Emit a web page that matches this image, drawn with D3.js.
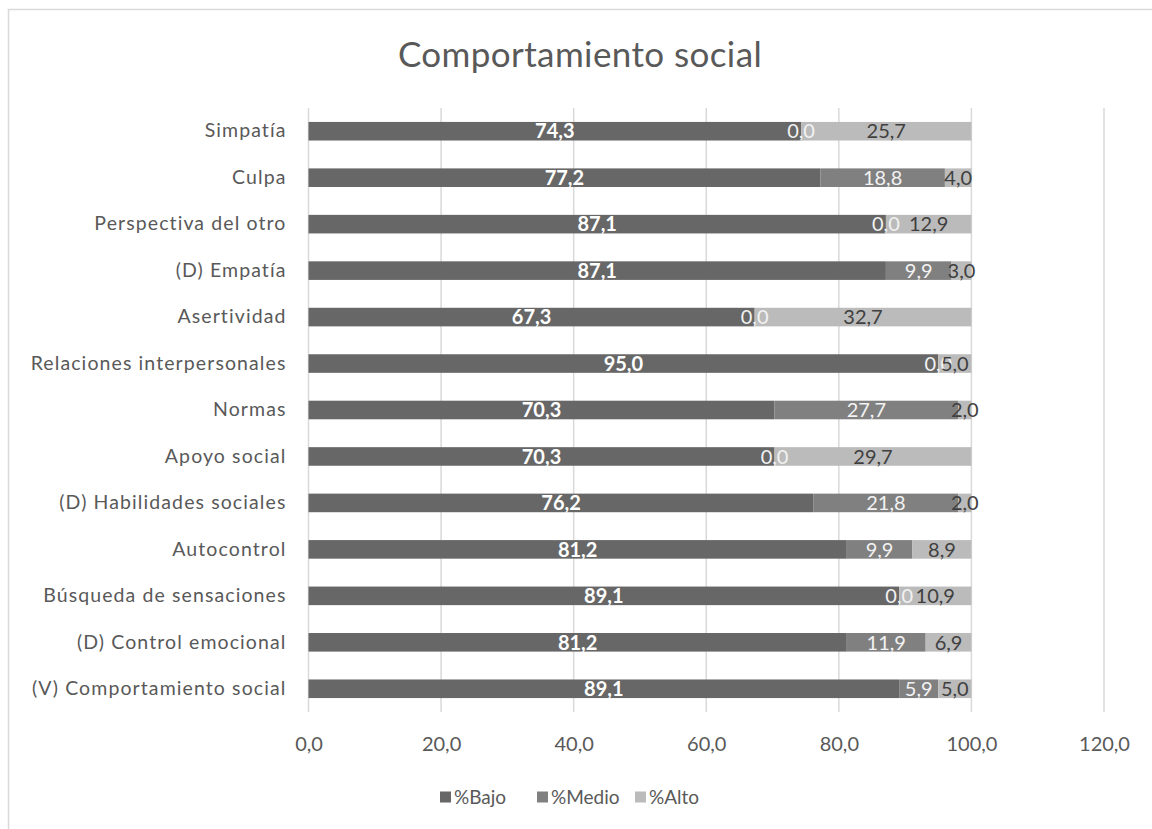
<!DOCTYPE html>
<html>
<head>
<meta charset="utf-8">
<script src="https://cdn.jsdelivr.net/npm/d3@7"></script>
<style>
  html, body { margin: 0; padding: 0; background: #ffffff; }
  svg { display: block; }
  text { font-family: Lato, "Open Sans", sans-serif; }
</style>
</head>
<body>
<svg id="chart" width="1152" height="829"></svg>
<script>
// Categories, top to bottom
const categories = [
  "Simpatía",
  "Culpa",
  "Perspectiva del otro",
  "(D) Empatía",
  "Asertividad",
  "Relaciones interpersonales",
  "Normas",
  "Apoyo social",
  "(D) Habilidades sociales",
  "Autocontrol",
  "Búsqueda de sensaciones",
  "(D) Control emocional",
  "(V) Comportamiento social"
];

// Percentages per level
const bajo  = [74.3, 77.2, 87.1, 87.1, 67.3, 95.0, 70.3, 70.3, 76.2, 81.2, 89.1, 81.2, 89.1];
const medio = [ 0.0, 18.8,  0.0,  9.9,  0.0,  0.0, 27.7,  0.0, 21.8,  9.9,  0.0, 11.9,  5.9];
const alto  = [25.7,  4.0, 12.9,  3.0, 32.7,  5.0,  2.0, 29.7,  2.0,  8.9, 10.9,  6.9,  5.0];

const seriesNames = ["%Bajo", "%Medio", "%Alto"];
const xTicks = [0, 20, 40, 60, 80, 100, 120];

const colors = ["#676767", "#808080", "#bbbbbb"];
const labelColors = ["#ffffff", "#f2f2f2", "#404040"];
const labelWeights = ["bold", "normal", "normal"];

const locale = d3.formatLocale({ decimal: ",", thousands: ".", grouping: [3], currency: ["", "€"] });
const fmt = locale.format(".1f");

const svg = d3.select("#chart");

// Chart frame (extends past the right and bottom edges)
svg.append("rect")
  .attr("x", 8.5).attr("y", 9.5)
  .attr("width", 1160).attr("height", 840)
  .attr("fill", "#ffffff")
  .attr("stroke", "#d9d9d9")
  .attr("stroke-width", 1.5);

// Title
svg.append("text")
  .attr("x", 580).attr("y", 67)
  .attr("text-anchor", "middle")
  .attr("fill", "#595959")
  .attr("font-size", 35)
  .attr("letter-spacing", 0.4)
  .text("Comportamiento social");

const plot = { left: 308.5, right: 1104, top: 108, bottom: 712 };

const x = d3.scaleLinear().domain([0, 120]).range([plot.left, plot.right]);
const y = d3.scaleBand().domain(categories)
  .range([plot.top, plot.bottom])
  .paddingInner(0.6).paddingOuter(0.3);

// Vertical gridlines
svg.append("g").selectAll("line")
  .data(xTicks)
  .join("line")
  .attr("x1", d => x(d)).attr("x2", d => x(d))
  .attr("y1", plot.top).attr("y2", plot.bottom)
  .attr("stroke", "#d9d9d9")
  .attr("stroke-width", 1.5);

// Stack the three series
const rows = categories.map((c, i) => ({ cat: c, "%Bajo": bajo[i], "%Medio": medio[i], "%Alto": alto[i] }));
const stacked = d3.stack().keys(seriesNames)(rows);

const layers = svg.append("g").selectAll("g")
  .data(stacked)
  .join("g")
  .attr("fill", (d, i) => colors[i]);

layers.selectAll("rect")
  .data(d => d)
  .join("rect")
  .attr("x", d => x(d[0]))
  .attr("width", d => x(d[1]) - x(d[0]))
  .attr("y", d => y(d.data.cat))
  .attr("height", y.bandwidth());

// Value labels centred in each segment
const labels = svg.append("g").selectAll("g")
  .data(stacked)
  .join("g")
  .attr("fill", (d, i) => labelColors[i])
  .attr("font-weight", (d, i) => labelWeights[i])
  .attr("font-size", 20)
  .attr("text-anchor", "middle");

labels.selectAll("text")
  .data(d => d)
  .join("text")
  .attr("x", d => (x(d[0]) + x(d[1])) / 2)
  .attr("y", d => y(d.data.cat) + y.bandwidth() / 2)
  .attr("dy", "0.36em")
  .text(d => fmt(d[1] - d[0]));

// Category axis labels
const yAxis = d3.axisLeft(y).tickSize(0).tickPadding(22);
const gy = svg.append("g")
  .attr("transform", `translate(${plot.left},0)`)
  .call(yAxis);
gy.select(".domain").remove();
gy.selectAll("text")
  .attr("fill", "#595959")
  .attr("font-size", 19.5)
  .attr("letter-spacing", 1.1)
  .style("font-family", "Lato, 'Open Sans', sans-serif");

// Value axis labels
const xAxis = d3.axisBottom(x).tickValues(xTicks).tickSize(0).tickPadding(25).tickFormat(fmt);
const gx = svg.append("g")
  .attr("transform", `translate(0,${plot.bottom})`)
  .call(xAxis);
gx.select(".domain").remove();
gx.selectAll("text")
  .attr("fill", "#595959")
  .attr("font-size", 20)
  .style("font-family", "Lato, 'Open Sans', sans-serif");

// Legend
const legendX = [440, 537, 635];
const legend = svg.append("g").selectAll("g")
  .data(seriesNames)
  .join("g")
  .attr("transform", (d, i) => `translate(${legendX[i]},797)`);
legend.append("rect")
  .attr("x", 0).attr("y", -5.5)
  .attr("width", 11).attr("height", 11)
  .attr("fill", (d, i) => colors[i]);
legend.append("text")
  .attr("x", 14).attr("y", 0)
  .attr("dy", "0.36em")
  .attr("fill", "#595959")
  .attr("font-size", 19)
  .text(d => d);
</script>
</body>
</html>
